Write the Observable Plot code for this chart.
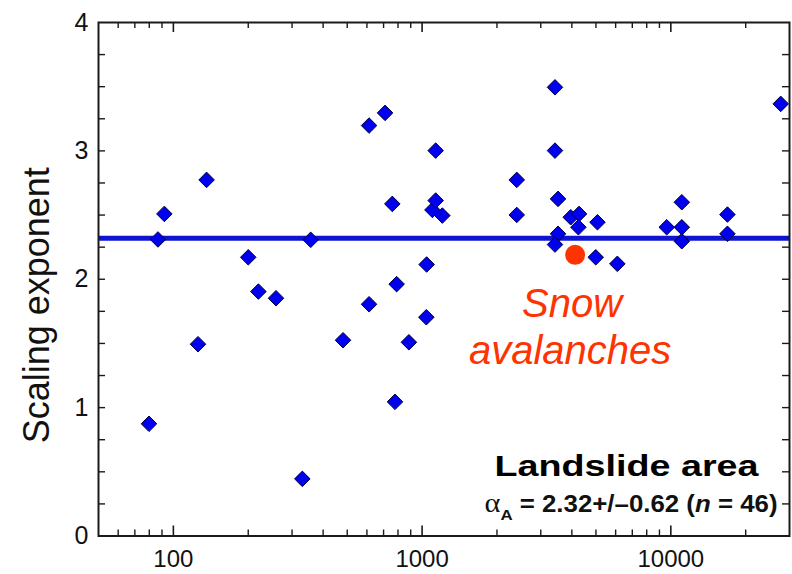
<!DOCTYPE html>
<html>
<head>
<meta charset="utf-8">
<script src="https://cdn.jsdelivr.net/npm/d3@7"></script>
<script src="https://cdn.jsdelivr.net/npm/@observablehq/plot@0.6"></script>
<style>
  body { margin: 0; background: #fff; }
  #chart svg { font-family: "Liberation Sans", Arial, Helvetica, sans-serif; }
</style>
</head>
<body>
<div id="chart"></div>
<script>
// ---- data ----
const landslideArea = [
  79.8, 86.7, 92, 125.6, 136, 200, 219.7, 258.6, 330, 356.6,
  481, 612, 612, 709.7, 759, 778, 790, 885, 1040, 1043,
  1100, 1134, 1134, 1206, 2402, 2402, 3422, 3422, 3520, 3520,
  3422, 3958, 4276, 4250, 5070, 4990, 6095, 9627, 11070, 11070,
  11070, 16890, 16890, 27660
];
const scalingExponent = [
  0.874, 2.31, 2.509, 1.494, 2.774, 2.171, 1.904, 1.852, 0.445, 2.307,
  1.525, 1.805, 3.197, 3.296, 2.587, 1.045, 1.962, 1.509, 1.704, 2.115,
  2.54, 2.613, 3.002, 2.496, 2.774, 2.501, 3.495, 3.002, 2.626, 2.354,
  2.27, 2.483, 2.509, 2.405, 2.444, 2.171, 2.12, 2.405, 2.6, 2.405,
  2.296, 2.504, 2.354, 3.366
];
const meanExponent = [2.32];
const snowArea = [4124];
const snowExponent = [2.19];
const snowLabelLines = ["Snow", "avalanches"];
const panelTitle = ["Landslide area"];
const statsLabel = ["\u03b1A = 2.32+/\u20130.62 (n = 46)"];
const yAxisTitle = ["Scaling exponent"];

const xTickLabels = [100, 1000, 10000];
const xMinorTicks = [60, 70, 80, 90, 200, 300, 400, 500, 600, 700, 800, 900,
  2000, 3000, 4000, 5000, 6000, 7000, 8000, 9000, 20000];
const yTickLabels = [0, 1, 2, 3, 4];
const yMinorTicks = [0.25, 0.5, 0.75, 1, 1.25, 1.5, 1.75, 2, 2.25, 2.5, 2.75,
  3, 3.25, 3.5, 3.75];

// ---- table built from the arrays ----
const points = landslideArea.map((a, i) => ({area: a, exponent: scalingExponent[i]}));
const snow = snowArea.map((a, i) => ({area: a, exponent: snowExponent[i]}));

const W = 792, H = 574;
const mL = 98, mR = 3, mT = 22, mB = 38.5;
const innerW = W - mL - mR, innerH = H - mT - mB;
const axisColor = "#1a1a1a";

const chart = Plot.plot({
  width: W, height: H,
  marginLeft: mL, marginRight: mR, marginTop: mT, marginBottom: mB,
  style: {background: "#fff", color: "#111", fontFamily: "'Liberation Sans', Arial, sans-serif"},
  x: {type: "log", domain: [50, 30000]},
  y: {domain: [0, 4]},
  marks: [
    // mean line
    Plot.ruleY(meanExponent, {y: d => d, stroke: "#0f14d2", strokeWidth: 5}),
    // data
    Plot.dot(points, {x: "area", y: "exponent", symbol: "diamond2", r: 7,
      fill: "#0000ee", stroke: "#00003c", strokeWidth: 1}),
    Plot.dot(snow, {x: "area", y: "exponent", r: 10, fill: "#ff3300"}),
    // inward ticks: x bottom / top
    Plot.ruleX(xTickLabels, {x: d => d, insetTop: innerH - 10, stroke: axisColor, strokeWidth: 1.6}),
    Plot.ruleX(xTickLabels, {x: d => d, insetBottom: innerH - 10, stroke: axisColor, strokeWidth: 1.6}),
    Plot.ruleX(xMinorTicks, {x: d => d, insetTop: innerH - 6, stroke: axisColor, strokeWidth: 1.4}),
    Plot.ruleX(xMinorTicks, {x: d => d, insetBottom: innerH - 6, stroke: axisColor, strokeWidth: 1.4}),
    // inward ticks: y left / right
    Plot.ruleY(yMinorTicks, {y: d => d, insetRight: innerW - 7, stroke: axisColor, strokeWidth: 1.4}),
    Plot.ruleY(yMinorTicks, {y: d => d, insetLeft: innerW - 7, stroke: axisColor, strokeWidth: 1.4}),
    Plot.frame({stroke: axisColor, strokeWidth: 2}),
    // tick labels
    Plot.axisX({ticks: xTickLabels, tickSize: 0, tickPadding: 14, fontSize: 24,
      tickFormat: d => String(d), label: null, fill: "#111"}),
    Plot.axisY({ticks: yTickLabels, tickSize: 0, tickPadding: 10, fontSize: 25,
      tickFormat: d => String(d), label: null, fill: "#111"}),
    // y axis title
    Plot.text(yAxisTitle, {text: d => d, frameAnchor: "left", rotate: -90, textAnchor: "middle",
      dx: -61, dy: 26, fontSize: 36, fill: "#111", lineAnchor: "middle"}),
    // snow annotation
    Plot.text(snow, {x: "area", y: "exponent", text: () => snowLabelLines[0],
      dx: -3, dy: 49, fontSize: 40, fontStyle: "italic", fill: "#ff3300", lineAnchor: "middle"}),
    Plot.text(snow, {x: "area", y: "exponent", text: () => snowLabelLines[1],
      dx: -5, dy: 96, fontSize: 40, fontStyle: "italic", fill: "#ff3300", lineAnchor: "middle"}),
    // panel title & stats
    Plot.text(panelTitle, {text: d => d, frameAnchor: "bottom-right", textAnchor: "end",
      dx: -31, dy: -70, fontSize: 30, fontWeight: "bold", fill: "#000",
      lineAnchor: "middle", ariaDescription: "panel-title"}),
    Plot.text(statsLabel, {text: d => d, frameAnchor: "bottom-right", textAnchor: "end",
      dx: -12, dy: -31, fontSize: 23, fontWeight: "bold", fill: "#111",
      lineAnchor: "middle", ariaDescription: "stats-label"})
  ]
});

document.getElementById("chart").appendChild(chart);

// stretch panel title like the reference
d3.select(chart).selectAll('g[aria-description="panel-title"] text')
  .attr("textLength", 264).attr("lengthAdjust", "spacingAndGlyphs");

// rich text for the stats line: alpha with subscript A, italic n
d3.select(chart).selectAll('g[aria-description="stats-label"] text').each(function () {
  const t = d3.select(this);
  t.text(null);
  t.append("tspan").attr("font-family", "'Liberation Serif', 'DejaVu Serif', serif")
    .attr("font-weight", "normal").attr("font-size", 27).text("\u03b1");
  t.append("tspan").attr("font-size", 15).attr("dy", 8).text("A");
  t.append("tspan").attr("dy", -8).text(" = 2.32+/\u20130.62 (");
  t.append("tspan").attr("font-style", "italic").text("n");
  t.append("tspan").text(" = 46)");
  t.attr("textLength", 293).attr("lengthAdjust", "spacingAndGlyphs");
});
</script>
</body>
</html>
